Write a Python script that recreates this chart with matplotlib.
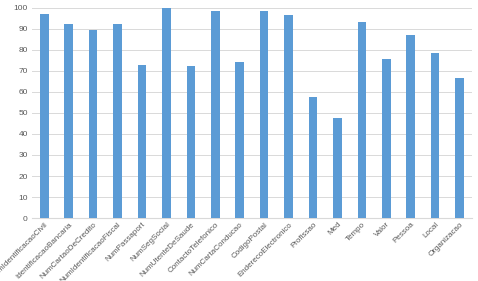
import matplotlib
matplotlib.use('Agg')
import matplotlib.pyplot as plt

categories = ['NumIdentificacaoCivil', 'IdentificacaoBancaria', 'NumCartaoDeCredito',
              'NumIdentificacaoFiscal', 'NumPassaport', 'NumSegSocial',
              'NumUtenteDeSaude', 'ContactoTelefonico', 'NumCartaConducao',
              'CodigoPostal', 'EnderecoElectronico', 'Profissao', 'Med', 'Tempo',
              'Valor', 'Pessoa', 'Local', 'Organizacao']
values = [97.2, 92.2, 89.6, 92.2, 73.0, 100.0, 72.4, 98.3, 74.4,
          98.3, 96.8, 57.6, 47.7, 93.4, 75.8, 87.3, 78.5, 66.8]
yticks = list(range(0, 101, 10))

plt.rcParams['font.family'] = ['Liberation Sans', 'DejaVu Sans']

fig = plt.figure(figsize=(4.78, 2.81), dpi=100)
ax = fig.add_axes([0.067, 0.224, 0.92, 0.748])

x = list(range(len(categories)))
ax.bar(x, values, width=0.35, color='#5B9BD5', zorder=3)

ax.set_ylim(0, 100)
ax.set_xlim(-0.5, len(categories) - 0.5)
ax.set_yticks(yticks)
ax.set_yticklabels([str(t) for t in yticks], fontsize=6, color='#595959')
ax.yaxis.grid(True, color='#D9D9D9', linewidth=0.7, zorder=0)
ax.set_xticks(x)
ax.set_xticklabels(categories, rotation=45, ha='right', rotation_mode='anchor',
                   fontsize=5.8, color='#595959')
ax.tick_params(axis='both', length=0, pad=3)
ax.tick_params(axis='x', pad=2)
for side in ('top', 'right', 'left'):
    ax.spines[side].set_visible(False)
ax.spines['bottom'].set_color('#D9D9D9')

fig.savefig('out.png', dpi=100)
